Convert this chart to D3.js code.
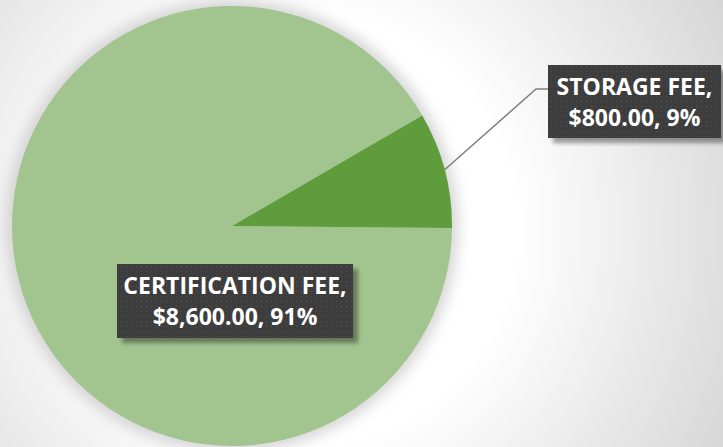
<!DOCTYPE html>
<html><head><meta charset="utf-8">
<script src="https://cdn.jsdelivr.net/npm/d3@7"></script>
<style>html,body{margin:0;padding:0;overflow:hidden;background:#fff}</style>
</head><body>
<svg id="chart" width="723" height="447"></svg>
<script>
const categories = ["CERTIFICATION FEE", "STORAGE FEE"];
const values = [8600, 800];
const colors = ["#a2c58f", "#5f9c3b"];

const W = 723, H = 447, cx = 232, cy = 226, R = 220;
const svg = d3.select("#chart");
const defs = svg.append("defs");

const bg = defs.append("radialGradient").attr("id","bg").attr("gradientUnits","userSpaceOnUse")
  .attr("cx",300).attr("cy",230).attr("r",480);
bg.append("stop").attr("offset","0.45").attr("stop-color","#ffffff");
bg.append("stop").attr("offset","1").attr("stop-color","#d6d6d6");

const glow = defs.append("filter").attr("id","glow").attr("x","-20%").attr("y","-20%").attr("width","140%").attr("height","140%");
glow.append("feGaussianBlur").attr("stdDeviation",7);

const bshadow = defs.append("filter").attr("id","bshadow").attr("x","-20%").attr("y","-30%").attr("width","140%").attr("height","160%");
bshadow.append("feGaussianBlur").attr("stdDeviation",2);

const pat = defs.append("pattern").attr("id","dots").attr("patternUnits","userSpaceOnUse").attr("width",5).attr("height",5);
pat.append("rect").attr("width",5).attr("height",5).attr("fill","#3d3d3d");
pat.append("rect").attr("x",1).attr("y",1).attr("width",1).attr("height",1).attr("fill","#545454");

svg.append("rect").attr("width",W).attr("height",H).attr("fill","url(#bg)");

// pie soft shadow
svg.append("circle").attr("cx",cx).attr("cy",cy).attr("r",R+6).attr("fill","#c4c4c4").attr("opacity",0.7).attr("filter","url(#glow)");

const start = 90.5 * Math.PI / 180;
const pie = d3.pie().sort(null).startAngle(start).endAngle(start + 2*Math.PI);
const arcs = pie(values);
const arc = d3.arc().innerRadius(0).outerRadius(R);
const g = svg.append("g").attr("transform",`translate(${cx},${cy})`);
g.selectAll("path").data(arcs).join("path").attr("d",arc).attr("fill",(d,i)=>colors[i]);

const fmt = d3.format("$,.2f");
const total = d3.sum(values);
function labelText(i){ return [categories[i] + ",", fmt(values[i]) + ", " + Math.round(values[i]/total*100) + "%"]; }

// leader line for storage
const mid = (arcs[1].startAngle + arcs[1].endAngle)/2;
const px = cx + R*Math.sin(mid), py = cy - R*Math.cos(mid);
svg.append("polyline").attr("points",`${px},${py} 536,89 548,89`).attr("fill","none").attr("stroke","#7f7f7f").attr("stroke-width",1.5);

const boxes = [
  {i:0, x:117, y:264, w:236, h:74},
  {i:1, x:548, y:65, w:173, h:73}
];
boxes.forEach(b=>{
  svg.append("rect").attr("x",b.x+5).attr("y",b.y+5).attr("width",b.w).attr("height",b.h).attr("fill","#000").attr("opacity",0.38).attr("filter","url(#bshadow)");
  svg.append("rect").attr("x",b.x).attr("y",b.y).attr("width",b.w).attr("height",b.h).attr("fill","url(#dots)");
  const lines = labelText(b.i);
  const t = svg.append("text").attr("text-anchor","middle").attr("fill","#ffffff")
    .attr("font-family","'Open Sans', 'Noto Sans', sans-serif").attr("font-weight","bold").attr("font-size",23);
  lines.forEach((s,k)=>{
    t.append("tspan").attr("x",b.x+b.w/2).attr("y",b.y+30+k*30.5).text(s);
  });
});
</script>
</body></html>
